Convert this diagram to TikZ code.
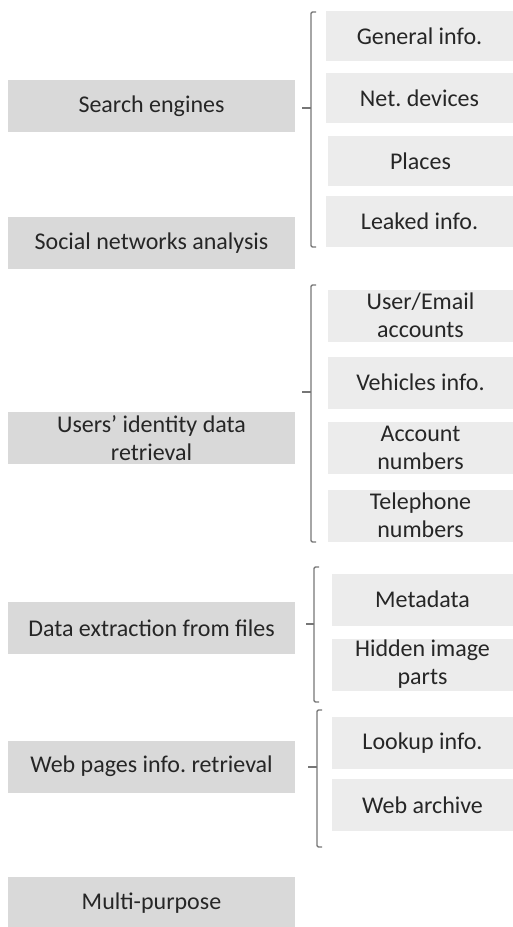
\documentclass[tikz,border=0pt]{standalone}
\usepackage{fontspec}
\setmainfont{Carlito}
\usepackage{tikz}
\frenchspacing
\definecolor{catgray}{RGB}{217,217,217}
\definecolor{subgray}{RGB}{236,236,236}
\definecolor{brkgray}{RGB}{118,118,118}
\tikzset{every picture/.style={line width=0.75pt}}
\tikzset{
  catbox/.style={fill=catgray, inner sep=0pt, minimum width=215.25pt, minimum height=39pt, align=center, text=black!85, font=\fontsize{18}{21}\selectfont},
  subbox/.style={fill=subgray, inner sep=0pt, minimum width=140.25pt, minimum height=39pt, align=center, text=black!85, font=\fontsize{18}{21}\selectfont},
  brk/.style={draw=brkgray, line width=1.1pt, rounded corners=1pt}
}

\begin{document}
\begin{tikzpicture}[x=0.75pt,y=0.75pt,yscale=-1,xscale=1]
	%set diagram left start at 0, and has height of 927
	\useasboundingbox (0,0) rectangle (513,927);
	
	% Text Node
	\draw (151.5,106) node [catbox] (se) {Search engines};
	% Text Node
	\draw (151.5,243) node [catbox] (sna) {Social networks analysis};
	% Text Node
	\draw (151.5,438) node [catbox] (uid) {Users’ identity data\\retrieval};
	% Text Node
	\draw (151.5,628) node [catbox] (dex) {Data extraction from files};
	% Text Node
	\draw (151.5,766.5) node [catbox] (wpr) {Web pages info. retrieval};
	% Text Node
	\draw (151.5,903) node [catbox] (mp) {Multi-purpose};
	
	% Text Node
	\draw (419.5,36) node [subbox, minimum height=37.5pt] (gi) {General info.};
	% Text Node
	\draw (419.5,98) node [subbox, minimum height=37.5pt] (nd) {Net. devices};
	% Text Node
	\draw (420.5,161.5) node [subbox, minimum width=138.75pt, minimum height=37.5pt] (pl) {Places};
	% Text Node
	\draw (419.5,221.5) node [subbox, minimum height=37.5pt] (li) {Leaked info.};
	% Text Node
	\draw (420.5,315.5) node [subbox, minimum width=138.75pt] (ue) {User/Email\\accounts};
	% Text Node
	\draw (420.5,382.5) node [subbox, minimum width=138.75pt] (vi) {Vehicles info.};
	% Text Node
	\draw (420.5,448) node [subbox, minimum width=138.75pt] (an) {Account\\numbers};
	% Text Node
	\draw (420.5,515.5) node [subbox, minimum width=138.75pt] (tn) {Telephone\\numbers};
	% Text Node
	\draw (422.5,599.5) node [subbox, minimum width=135.75pt] (md) {Metadata};
	% Text Node
	\draw (422.5,664.5) node [subbox, minimum width=135.75pt] (hi) {Hidden image\\parts};
	% Text Node
	\draw (422.5,743) node [subbox, minimum width=135.75pt] (lu) {Lookup info.};
	% Text Node
	\draw (422.5,805) node [subbox, minimum width=135.75pt] (wa) {Web archive};
	
	%Left Bracket [search engines]
	\draw [brk] (316,12) -- (311,12) -- (311,247) -- (316,247) ;
	\draw [brk] (302,108) -- (311,108) ;
	%Left Bracket [users' identity]
	\draw [brk] (316,285) -- (311,285) -- (311,542) -- (316,542) ;
	\draw [brk] (302,392) -- (311,392) ;
	%Left Bracket [data extraction]
	\draw [brk] (319,567) -- (314,567) -- (314,702) -- (319,702) ;
	\draw [brk] (306,624) -- (314,624) ;
	%Left Bracket [web pages]
	\draw [brk] (322,710) -- (317,710) -- (317,847) -- (322,847) ;
	\draw [brk] (308,767) -- (317,767) ;
	
\end{tikzpicture}
\end{document}
